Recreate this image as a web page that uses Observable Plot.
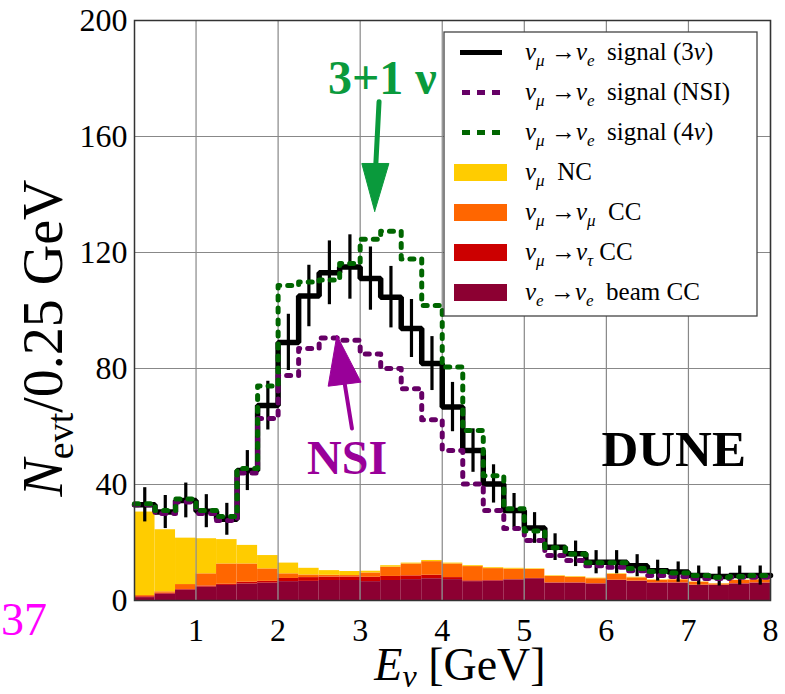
<!DOCTYPE html>
<html><head><meta charset="utf-8">
<script src="https://cdn.jsdelivr.net/npm/d3@7"></script>
<script src="https://cdn.jsdelivr.net/npm/@observablehq/plot@0.6"></script>
<style>body{margin:0;background:#fff} #chart{position:relative;width:785px;height:694px}</style>
</head><body><div id="chart"></div>
<script>
// ---- data ----
const edges = [0.25,0.5,0.75,1,1.25,1.5,1.75,2,2.25,2.5,2.75,3,3.25,3.5,3.75,4,4.25,4.5,4.75,5,5.25,5.5,5.75,6,6.25,6.5,6.75,7,7.25,7.5,7.75,8];
const signal3nu = [33,30.5,34.5,30.8,28,44.8,67.2,89,105,113,115,111,104.6,93.8,81.7,66.7,51.7,40.2,31,25,18.4,16.1,13.2,13.2,12,10.3,9.8,8.6,8.3,8.6,8.6];
const errors3nu = [5.9,5.7,6.0,5.7,5.5,6.9,8.4,9.7,10.6,11.0,11.1,10.9,10.6,10.0,9.3,8.5,7.5,6.6,5.9,5.3,4.6,4.4,4.0,4.0,3.8,3.6,3.5,3.3,3.3,3.3,3.3];
const signalNSI = [33,30,34,30,27.6,44,62.8,77.6,86.9,90.5,89.7,85,80,73,62.3,51.7,40.2,31,24.8,20.7,15.5,13.8,12,11.5,10.3,8.6,8.3,7.6,7.6,8,8];
const signal4nu = [33.4,31,35,31,29,45.5,74,108.6,109.8,110.5,116.2,124.6,127.3,117.8,101.7,80.5,58.6,43,31.6,24,18.2,16,13,13,11,10,9.5,8.6,8,8.3,8.6];
const bgNueBeamCC = [1.0,2.2,3.6,4.6,5.2,5.7,6.0,6.5,6.6,6.9,6.9,6.5,6.9,7.2,7.5,7.2,6.5,6.7,7.1,7.5,6.0,6.0,5.7,6.9,6.6,6.0,6.0,5.2,5.2,5.7,6.0];
const bgNutauCC = [0.3,0.3,0.2,0.4,0.4,0.6,0.6,1.1,1.3,1.2,1.2,1.5,1.4,1.3,1.2,0.7,0.3,0.2,0.1,0.1,0.1,0.1,0.1,0.1,0.1,0.1,0.1,0.1,0.1,0.1,0.1];
const bgNumuCC = [0.4,0.5,1.7,4.2,7.0,6.3,4.3,1.6,0.9,0.6,0.5,1.5,3.2,4.1,4.7,4.7,4.9,4.1,3.6,3.1,2.2,1.9,1.7,2.0,1.1,0.8,1.0,1.0,0.4,1.1,1.0];
const bgNC = [28.8,21.4,16.0,12.1,8.4,6.4,4.6,3.7,2.3,1.6,1.4,0.6,0.5,0.3,0.4,0.3,0.3,0.3,0.3,0.2,0.2,0.2,0.2,0.2,0.2,0.2,0.2,0.1,0.1,0.1,0.1];
const xTicks = [1,2,3,4,5,6,7,8];
const yTicks = [0,40,80,120,160,200];
const bgNames = ["nue beam CC","numu->nutau CC","numu->numu CC","numu NC"];
const bgColors = ["#8c0032","#cc0000","#ff6600","#ffcc00"];
const lineColors = {s3:"#000000", nsi:"#660066", s4:"#006600"};
// legend labels: segments [text, style] with style "i" italic, "s" subscript (italic), "" roman
const legendLabels = [
  [["ν","i"],["μ","s"],[" →",""],["ν","i"],["e","s"],["  signal (3",""],["ν","i"],[")",""]],
  [["ν","i"],["μ","s"],[" →",""],["ν","i"],["e","s"],["  signal (NSI)",""]],
  [["ν","i"],["μ","s"],[" →",""],["ν","i"],["e","s"],["  signal (4",""],["ν","i"],[")",""]],
  [["ν","i"],["μ","s"],["  NC",""]],
  [["ν","i"],["μ","s"],[" →",""],["ν","i"],["μ","s"],["  CC",""]],
  [["ν","i"],["μ","s"],[" →",""],["ν","i"],["τ","s"],[" CC",""]],
  [["ν","i"],["e","s"],[" →",""],["ν","i"],["e","s"],["  beam CC",""]]
];
const legendKinds = [["line","s3"],["dot","nsi"],["dot","s4"],["patch",3],["patch",2],["patch",1],["patch",0]];
const annotations = [
  {x:3.27, y:180, text:"3+1 ν", color:"#0a9a3c"},
  {x:2.84, y:49, text:"NSI", color:"#990099"},
  {x:6.82, y:52, text:"DUNE", color:"#000000"}
];
const greenArrow = {shaft:[{x:3.23,y:172},{x:3.19,y:150}], head:[{x:3.177,y:134.2},{x:3.02,y:150.7},{x:3.35,y:150.7},{x:3.177,y:134.2}]};
const purpleArrow = {shaft:[{x:2.90,y:59.3},{x:2.81,y:75}], head:[{x:2.716,y:91.4},{x:2.61,y:73.9},{x:3.01,y:75.3},{x:2.716,y:91.4}]};

// ---- build tables ----
const bins = signal3nu.map((v,i)=>({x1:edges[i], x2:edges[i+1], xc:(edges[i]+edges[i+1])/2, s3:v, err:errors3nu[i], nsi:signalNSI[i], s4:signal4nu[i]}));
const bgArrays = [bgNueBeamCC,bgNutauCC,bgNumuCC,bgNC];
const bg = [];
bins.forEach((b,i)=>bgArrays.forEach((arr,k)=>bg.push({x1:b.x1,x2:b.x2,v:arr[i],comp:bgNames[k]})));
const steps = key => bins.flatMap(b=>[{x:b.x1,y:b[key]},{x:b.x2,y:b[key]}]);
const serif = "'Liberation Serif', 'Times New Roman', serif";

const svg = Plot.plot({
  width:785, height:694,
  marginLeft:134, marginRight:15, marginTop:20, marginBottom:94,
  style:{fontFamily:serif, fontSize:"32px", color:"#000", background:"#fff"},
  x:{domain:[0.25,8], ticks:xTicks, tickSize:0, tickPadding:18, label:null},
  y:{domain:[0,200], ticks:yTicks, tickSize:0, tickPadding:7, label:null},
  color:{domain:bgNames, range:bgColors},
  marks:[
    Plot.rectY(bg,{x1:"x1",x2:"x2",y:"v",z:"comp",fill:"comp"}),
    Plot.ruleX(xTicks,{stroke:"#888",strokeWidth:1.2}),
    Plot.ruleY(yTicks,{stroke:"#888",strokeWidth:1.2}),
    Plot.line(steps("s3"),{x:"x",y:"y",stroke:lineColors.s3,strokeWidth:5.5,strokeLinejoin:"miter"}),
    Plot.ruleX(bins,{x:"xc",y1:d=>d.s3-d.err,y2:d=>d.s3+d.err,stroke:"#000",strokeWidth:3.2}),
    Plot.line(steps("nsi"),{x:"x",y:"y",stroke:lineColors.nsi,strokeWidth:5,strokeDasharray:"4,8"}),
    Plot.line(steps("s4"),{x:"x",y:"y",stroke:lineColors.s4,strokeWidth:5,strokeDasharray:"4,8"}),
    Plot.frame({stroke:"#333",strokeWidth:1.5}),
    Plot.text([annotations[0]],{x:"x",y:"y",text:"text",fill:annotations[0].color,fontSize:48,fontWeight:"bold"}),
    Plot.text([annotations[1]],{x:"x",y:"y",text:"text",fill:annotations[1].color,fontSize:48,fontWeight:"bold"}),
    Plot.text([annotations[2]],{x:"x",y:"y",text:"text",fill:annotations[2].color,fontSize:51,fontWeight:"bold"}),
    Plot.line(greenArrow.shaft,{x:"x",y:"y",stroke:"#0a9a3c",strokeWidth:5}),
    Plot.line(greenArrow.head,{x:"x",y:"y",stroke:"#0a9a3c",fill:"#0a9a3c",strokeWidth:1}),
    Plot.line(purpleArrow.shaft,{x:"x",y:"y",stroke:"#990099",strokeWidth:4}),
    Plot.line(purpleArrow.head,{x:"x",y:"y",stroke:"#990099",fill:"#990099",strokeWidth:1})
  ]
});
document.getElementById("chart").appendChild(svg);

const S = d3.select(svg);
function richText(sel, segs, subSize, subDy){
  let pending = 0;
  segs.forEach(([t,st])=>{
    const ts = sel.append("tspan").text(t).style("font-family", serif);
    if(st==="s"){ ts.attr("font-size",subSize).attr("font-style","italic").attr("dy",subDy+pending); pending=-subDy; }
    else { if(pending) ts.attr("dy",pending); pending=0; if(st==="i") ts.attr("font-style","italic"); }
  });
}
// legend
const lg = S.append("g").attr("font-size",25).attr("text-anchor","start").style("font-family", serif);
lg.append("rect").attr("x",444).attr("y",32).attr("width",313).attr("height",284).attr("fill","#fff").attr("stroke","#444").attr("stroke-width",1.3);
legendLabels.forEach((segs,i)=>{
  const cy = 52.5 + i*40;
  const [kind,key] = legendKinds[i];
  if(kind==="line") lg.append("line").attr("x1",460).attr("x2",502).attr("y1",cy).attr("y2",cy).attr("stroke",lineColors[key]).attr("stroke-width",5);
  else if(kind==="dot") lg.append("line").attr("x1",462).attr("x2",502).attr("y1",cy).attr("y2",cy).attr("stroke",lineColors[key]).attr("stroke-width",5).attr("stroke-dasharray","8,7");
  else lg.append("rect").attr("x",454).attr("y",cy-8.5).attr("width",53).attr("height",17).attr("fill",bgColors[key]);
  const t = lg.append("text").attr("x",525).attr("y",cy+7).attr("text-anchor","start").style("font-family", serif);
  richText(t, segs, 17, 6);
});
// axis labels
const yl = S.append("text").attr("font-size",56).attr("text-anchor","middle").style("font-family", serif)
  .attr("transform","translate(62,338) rotate(-90)");
richText(yl, [["N","i"],["evt","s"],["/0.25 GeV",""]], 38, 11);
yl.selectAll("tspan").filter((d,i)=>i===1).attr("font-style","normal");
const xl = S.append("text").attr("font-size",46).attr("text-anchor","middle").style("font-family", serif).attr("x",460).attr("y",680);
richText(xl, [["E","i"],["ν","s"],[" [GeV]",""]], 32, 7);
// partial page number at left
S.append("text").attr("font-size",46).attr("fill","#ff00ff").attr("text-anchor","end").style("font-family", serif).attr("x",47).attr("y",635).text("37");
</script>
</body></html>
